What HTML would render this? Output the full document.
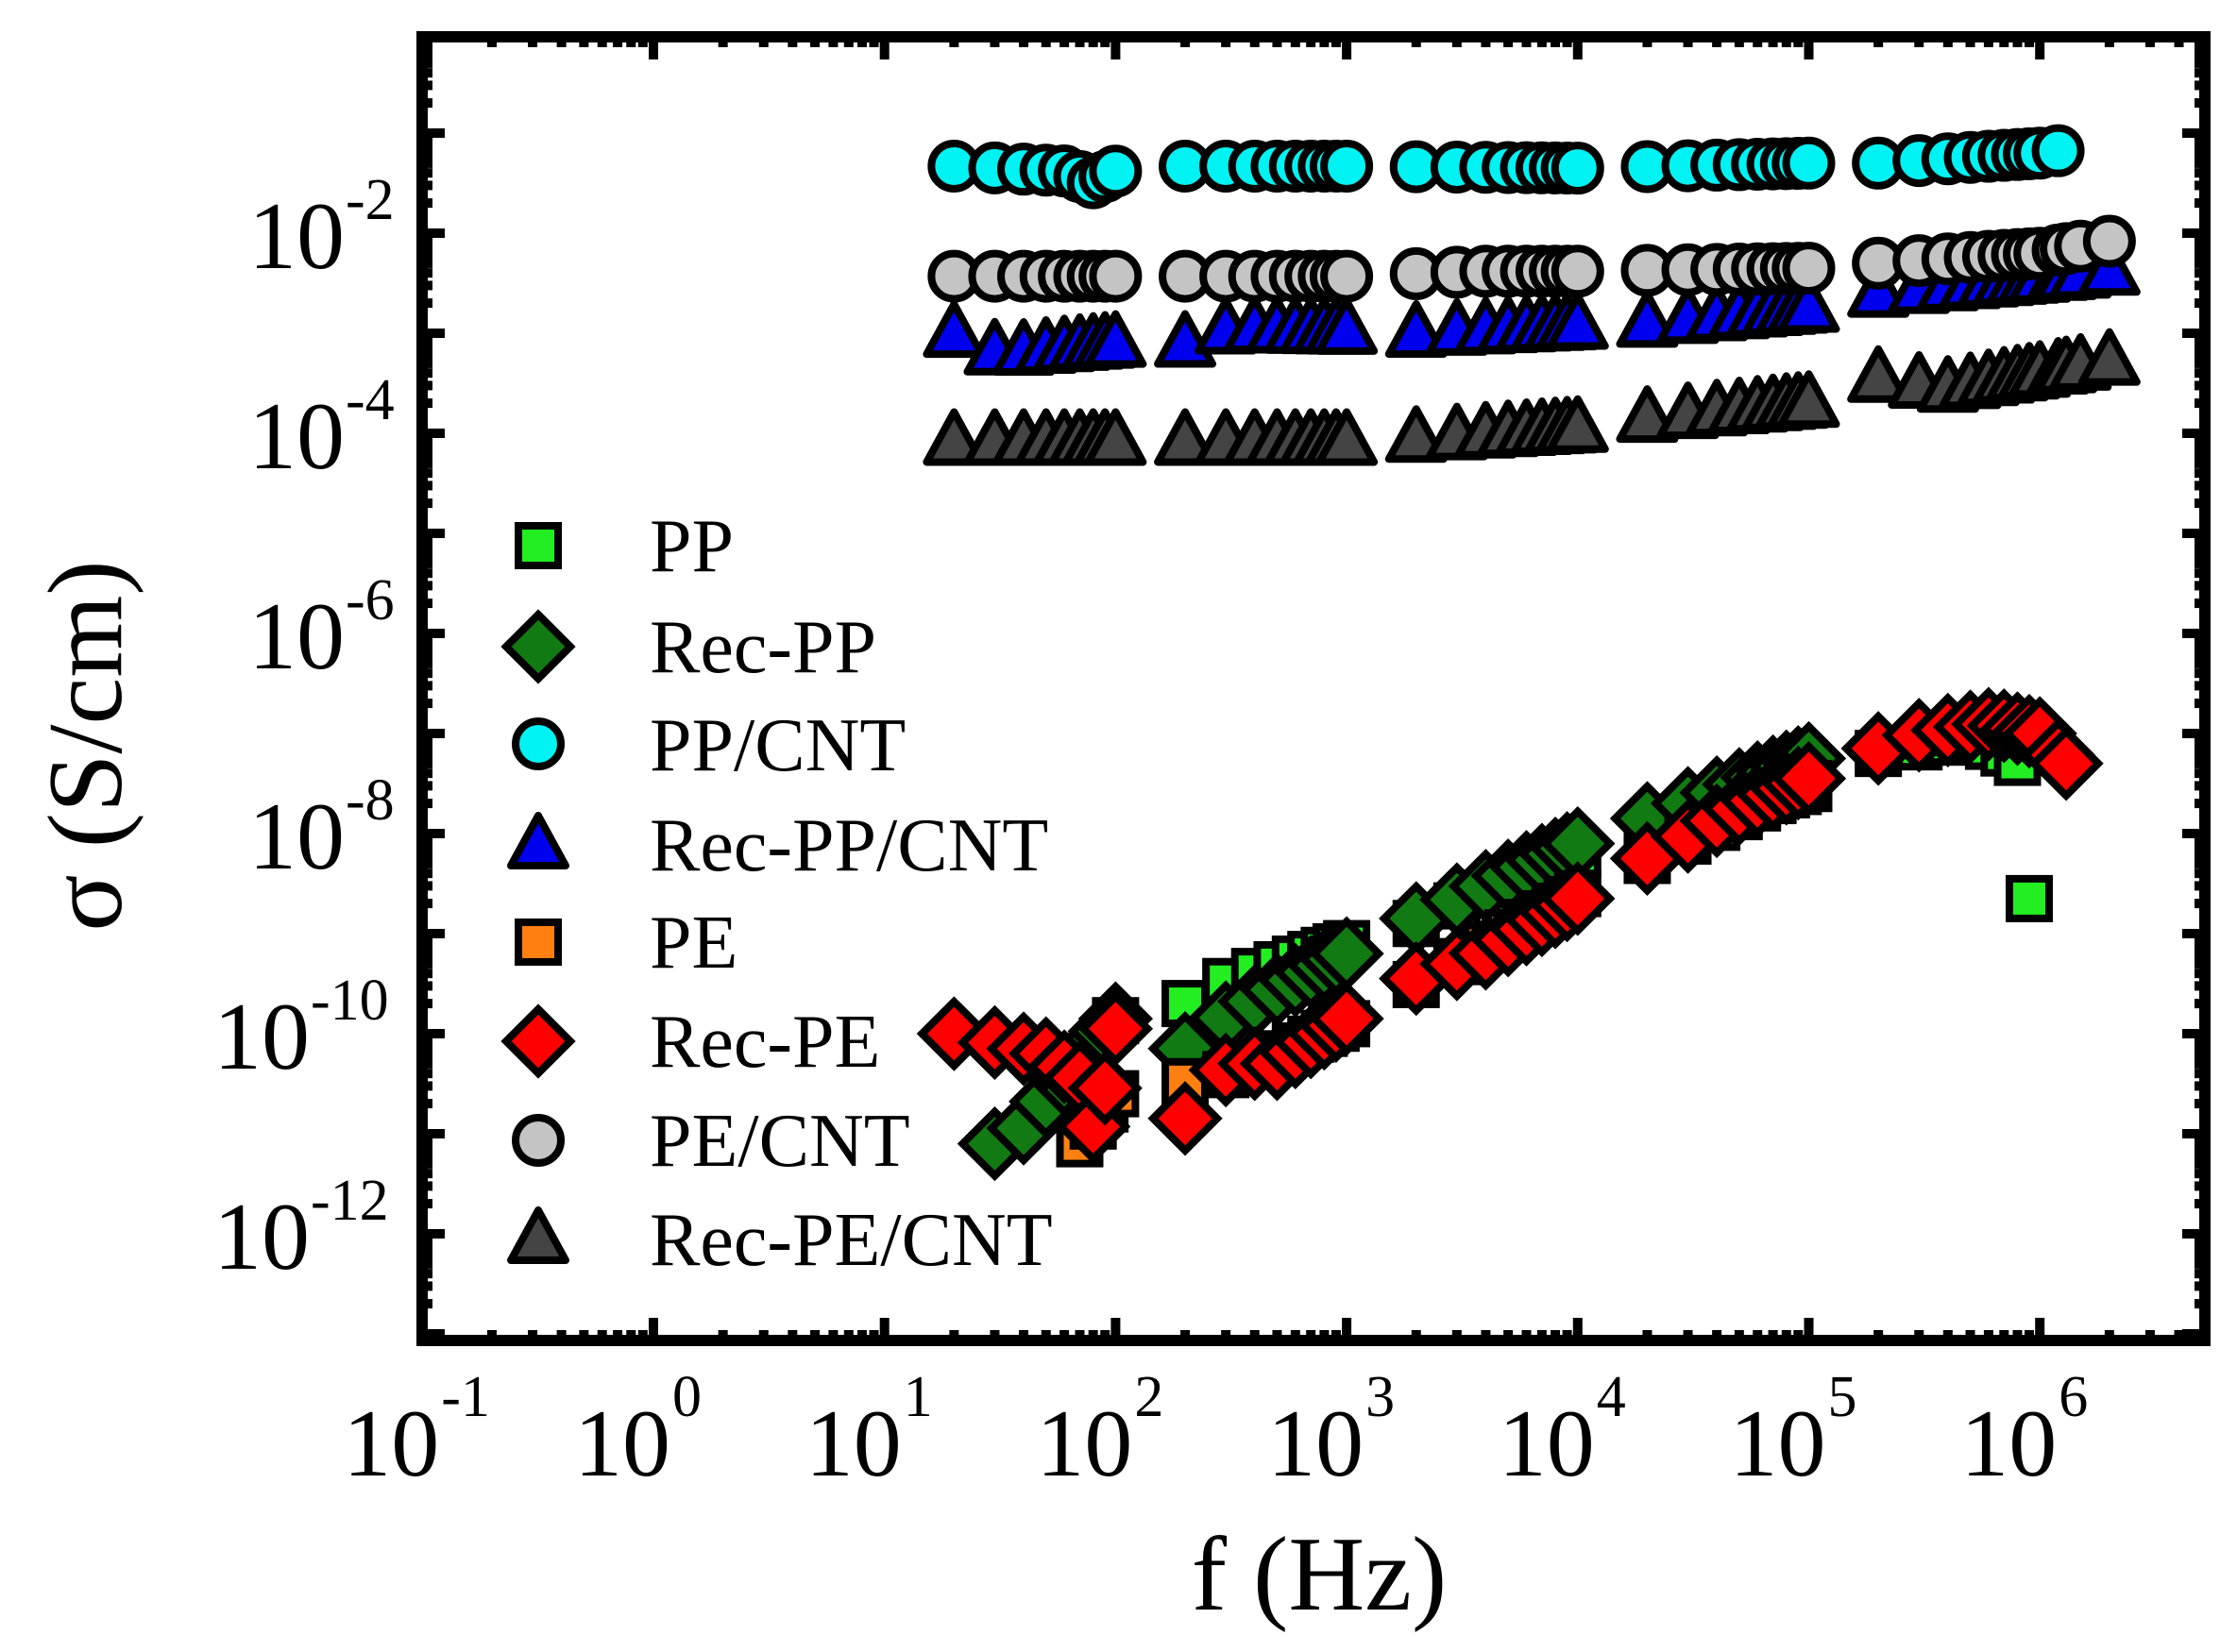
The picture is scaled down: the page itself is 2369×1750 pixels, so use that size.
<!DOCTYPE html>
<html><head><meta charset="utf-8">
<style>html,body{margin:0;padding:0;background:#fff}svg{display:block}text{font-family:"Liberation Serif",serif;fill:#000}</style>
</head><body>
<svg id="s" width="2369" height="1750" viewBox="0 0 2369 1750" xmlns="http://www.w3.org/2000/svg">
<rect width="2369" height="1750" fill="#fff"/>
<g id="ticks"></g>
<g id="data"></g>
<rect x="447" y="39" width="1888" height="1381" fill="none" stroke="#000" stroke-width="12"/>
<g font-size="102" text-anchor="end">
<text x="365" y="284">10</text><text x="365" y="496">10</text><text x="365" y="708">10</text><text x="365" y="920">10</text><text x="328" y="1132">10</text><text x="328" y="1344">10</text>
</g>
<g font-size="62">
<text x="366" y="232">-2</text><text x="366" y="444">-4</text><text x="366" y="656">-6</text><text x="366" y="868">-8</text><text x="329" y="1080">-10</text><text x="329" y="1292">-12</text>
</g>
<g font-size="102" text-anchor="end" id="xl"></g>
<text x="1397" y="1705" font-size="112" text-anchor="middle">f (Hz)</text>
<text transform="translate(128,790) rotate(-90)" font-size="112" text-anchor="middle">σ (S/cm)</text>
<g font-size="80" id="leg">
<text x="688" y="605">PP</text><text x="688" y="712">Rec-PP</text><text x="688" y="816">PP/CNT</text><text x="688" y="922">Rec-PP/CNT</text>
<text x="688" y="1025">PE</text><text x="688" y="1130">Rec-PE</text><text x="688" y="1235">PE/CNT</text><text x="688" y="1340">Rec-PE/CNT</text>
</g>
<g id="legm"></g>
</svg>
<script>
var NS="http://www.w3.org/2000/svg";
function X(l){return 692+244.7*l}
function Y(l){return 35-106*l}
function el(p,t,a){var e=document.createElementNS(NS,t);for(var k in a)e.setAttribute(k,a[k]);p.appendChild(e);return e}
var tk=document.getElementById('ticks');
for(var d=-1;d<=7;d++){for(var m=1;m<10;m++){var x=X(d+Math.log10(m));if(x>2330)break;var L=m==1?24:11;
el(tk,'rect',{x:x-5,y:1420-L,width:10,height:L,fill:'#000'});el(tk,'rect',{x:x-5,y:39,width:10,height:L,fill:'#000'});}}
for(var d=-14;d<=0;d++){for(var m=1;m<10;m++){var y=Y(d+Math.log10(m));if(y<39||y>1420)continue;var L=m==1?24:11;
el(tk,'rect',{x:447,y:y-5,width:L,height:10,fill:'#000'});el(tk,'rect',{x:2335-L,y:y-5,width:L,height:10,fill:'#000'});}}
var xl=document.getElementById('xl');
var sups=['-1','0','1','2','3','4','5','6'];
for(var i=0;i<8;i++){var x=X(i-1);var t=el(xl,'text',{x:x+18,y:1563});t.textContent='10';
var s=el(xl,'text',{x:x+20,y:1500,'font-size':62,'text-anchor':'start'});s.textContent=sups[i];}
function interp(pts,l){if(l<=pts[0][0])return pts[0][1];for(var i=1;i<pts.length;i++){if(l<=pts[i][0]){var a=pts[i-1],b=pts[i];return a[1]+(b[1]-a[1])*(l-a[0])/(b[0]-a[0]);}}return pts[pts.length-1][1];}
function freqs(lo,hi){var r=[];for(var d=0;d<8;d++)for(var m=1;m<=10;m++){var f=m*Math.pow(10,d);if(f>=lo&&f<=hi&&r.indexOf(f)<0)r.push(f);}
[1.2e6,1.5e6,1.3e6].forEach(function(f){if(f>=lo&&f<=hi)r.push(f)});return r.sort(function(a,b){return a-b});}
var g=document.getElementById('data');
function marker(p,type,x,y,fill){var sw=8;
if(type=='s')el(p,'rect',{x:x-21,y:y-21,width:42,height:42,fill:fill,stroke:'#000','stroke-width':sw});
else if(type=='d')el(p,'polygon',{points:(x)+','+(y-34)+' '+(x+34)+','+y+' '+x+','+(y+34)+' '+(x-34)+','+y,fill:fill,stroke:'#000','stroke-width':sw});
else if(type=='c')el(p,'circle',{cx:x,cy:y,r:24,fill:fill,stroke:'#000','stroke-width':sw});
else if(type=='t')el(p,'polygon',{points:x+','+(y-31)+' '+(x+29)+','+(y+22)+' '+(x-29)+','+(y+22),fill:fill,stroke:'#000','stroke-width':sw,'stroke-linejoin':'round'});}
var series=[
['s','#22ee22',100,9e5,[[2,-9.87],[2.3,-9.7],[2.5,-9.45],[3,-9.1],[3.3,-8.9],[4,-8.2],[5,-7.55],[5.3,-7.2],[5.7,-7.05],[5.85,-7.2],[5.91,-7.3],[5.95,-8.65]]],
['d','#127a12',30,1e5,[[1.48,-11.1],[1.6,-10.95],[2,-9.85],[2.3,-10.15],[2.5,-9.8],[3,-9.2],[3.3,-8.85],[4,-8.1],[4.3,-7.85],[5,-7.25]]],
['c','#00f2f2',20,1.2e6,[[1.3,-1.33],[1.8,-1.38],[1.9,-1.5],[2,-1.38],[2.3,-1.33],[3,-1.33],[4,-1.35],[5,-1.3],[5.3,-1.3],[6,-1.2],[6.1,-1.17]]],
['t','#0000ee',20,2e6,[[1.3,-3.0],[1.5,-3.2],[2,-3.1],[2.3,-3.1],[2.5,-2.95],[3,-2.97],[3.3,-3.0],[4,-2.92],[4.3,-2.9],[5,-2.75],[5.3,-2.6],[6,-2.45],[6.3,-2.38]]],
['s','#ff8010',70,1e5,[[1.85,-11.1],[2,-10.6],[2.5,-10.4],[3,-9.9],[4,-8.6],[5,-7.5]]],
['d','#ff0000',20,1.3e6,[[1.3,-10.0],[1.7,-10.2],[1.85,-10.45],[1.9,-10.95],[1.95,-10.6],[2,-9.95],[2.3,-10.85],[2.5,-10.3],[2.7,-10.3],[3,-9.85],[3.3,-9.45],[3.6,-9.2],[4,-8.65],[4.3,-8.25],[4.5,-8.0],[4.7,-7.75],[5,-7.45],[5.3,-7.15],[5.5,-7.0],[5.8,-6.9],[6,-7.0],[6.11,-7.3]]],
['c','#c4c4c4',20,2e6,[[1.3,-2.43],[2,-2.43],[2.3,-2.43],[3,-2.43],[3.6,-2.38],[4,-2.38],[5,-2.35],[5.3,-2.3],[6,-2.2],[6.3,-2.08]]],
['t','#444444',20,2e6,[[1.3,-4.08],[2,-4.08],[2.3,-4.08],[3,-4.08],[3.3,-4.05],[4,-3.95],[4.3,-3.85],[5,-3.7],[5.3,-3.45],[5.6,-3.55],[6,-3.4],[6.3,-3.28]]]
];
series.forEach(function(s){var fs=freqs(s[2],s[3]);
fs.forEach(function(f){var l=Math.log10(f);marker(g,s[0],X(l),Y(interp(s[4],l)),s[1]);});});
var lm=document.getElementById('legm');var ly=[578,685,788,895,998,1103,1208,1313];
series.forEach(function(s,i){marker(lm,s[0],570,ly[i],s[1]);});
</script>
</body></html>
